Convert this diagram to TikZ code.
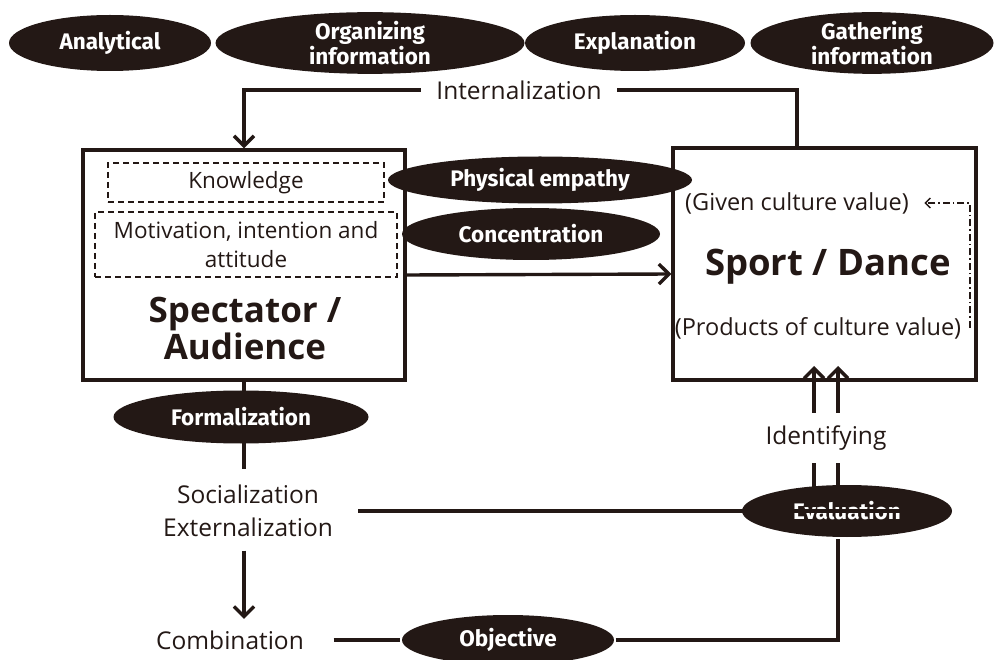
\documentclass[tikz,border=0pt]{standalone}
\usepackage{fontspec}
\setmainfont{Open Sans}
\newfontfamily\ovalfont{Fira Sans}
\usetikzlibrary{arrows.meta,shapes.geometric}
\definecolor{ink}{HTML}{231815}

\begin{document}
\begin{tikzpicture}[x=1pt,y=-1pt,line width=3.4pt,color=ink,
    every node/.style={inner sep=0pt,font=\fontsize{24.5}{28}\selectfont},
    >={Straight Barb[width=20pt,length=10pt]},
    oval/.style={ellipse,fill=ink,text=white,align=center,
      font=\ovalfont\bfseries\fontsize{22.5}{25}\selectfont},
    dbox/.style={draw,line width=1.4pt,dash pattern=on 6pt off 4pt,
      align=center,font=\fontsize{22.5}{29}\selectfont},
    dd/.style={line width=1.3pt,dash pattern=on 7pt off 3pt on 1.5pt off 3pt}]
  \useasboundingbox (0,0) rectangle (994,660);
  % top row
  \node[oval,minimum width=202pt,minimum height=56pt] (anal) at (110,43) {Analytical};
  \node[oval,minimum width=309pt,minimum height=60pt] (orga) at (370,43) {Organizing\\information};
  \node[oval,minimum width=220pt,minimum height=56pt] (expl) at (635,43) {Explanation};
  \node[oval,minimum width=243pt,minimum height=60pt] (gath) at (872,43) {Gathering\\information};
  % boxes
  \node[draw,minimum width=322pt,minimum height=230pt] (spec) at (244,265) {};
  \node[draw,minimum width=303pt,minimum height=232pt] (sport) at (824.5,264) {};
  \node[dbox,minimum width=276pt,minimum height=39pt] (know) at (246,182.5) {Knowledge};
  \node[dbox,minimum width=302pt,minimum height=65pt] (moti) at (246,244.5) {Motivation, intention and\\attitude};
  \node[align=center,font=\bfseries\fontsize{35}{37}\selectfont] (spectxt) at (245,328) {Spectator /\\Audience};
  \node[font=\bfseries\fontsize{36.5}{40}\selectfont] (sporttxt) at (828,267) {Sport / Dance};
  \node[font=\fontsize{23.5}{28}\selectfont] (given) at (797,203) {(Given culture value)};
  \node[font=\fontsize{23.5}{28}\selectfont] (prod) at (818,328) {(Products of culture value)};
  \draw[dd,-{Straight Barb[width=10pt,length=5pt]}] ([xshift=7pt]prod.east) |- ([xshift=14pt]given.east);
  % internalization
  \node (intl) at (519,90) {Internalization};
  \coordinate (sin) at (797,148);
  \draw[->] ([xshift=-14pt]intl.west) -| (spec.north);
  \draw ([xshift=14pt]intl.east) -| (sin);
  \draw[->] ([yshift=-10pt]spec.east) -- ([yshift=-10pt]sport.west);
  \node[oval,minimum width=304pt,minimum height=47pt] (phys) at (540,180) {Physical empathy};
  \node[oval,minimum width=258pt,minimum height=52pt] (conc) at (531,234) {Concentration};
  % left column
  \node[align=center,font=\fontsize{24.5}{33}\selectfont] (socx) at (248,511) {Socialization\\Externalization};
  \node (comb) at (230,640) {Combination};
  \draw[shorten >=14pt] (spec.south) -- (spec.south |- socx.north);
  \node[oval,minimum width=255pt,minimum height=53pt] (form) at (241,417) {Formalization};
  \draw[->,shorten <=12pt,shorten >=10pt] (spec.south |- socx.south) -- (spec.south |- comb.north);
  % right column
  \node (idf) at (826,438) {Identifying};
  \coordinate (ia) at (814,413);
  \coordinate (ib) at (838,413);
  \draw[->] (ia) -- ++(0,-47);
  \draw[->] (ib) -- ++(0,-47);
  \draw (ia) ++(0,50) -- ++(0,24);
  \draw (ib) ++(0,50) -- ++(0,24);
  \node[oval,minimum width=210pt,minimum height=52pt] (eval) at (847,511) {Evaluation};
  \node[oval,minimum width=212pt,minimum height=50pt] (obj) at (508,640) {Objective};
  \coordinate (evl) at (358,511);
  \draw[line width=4pt] (evl) -- ([xshift=-3pt]eval.east);
  \draw[shorten <=28pt] (comb.east) -- (obj.west);
  \draw (obj.east) -| ([xshift=-9pt]eval.south);
\end{tikzpicture}
\end{document}
